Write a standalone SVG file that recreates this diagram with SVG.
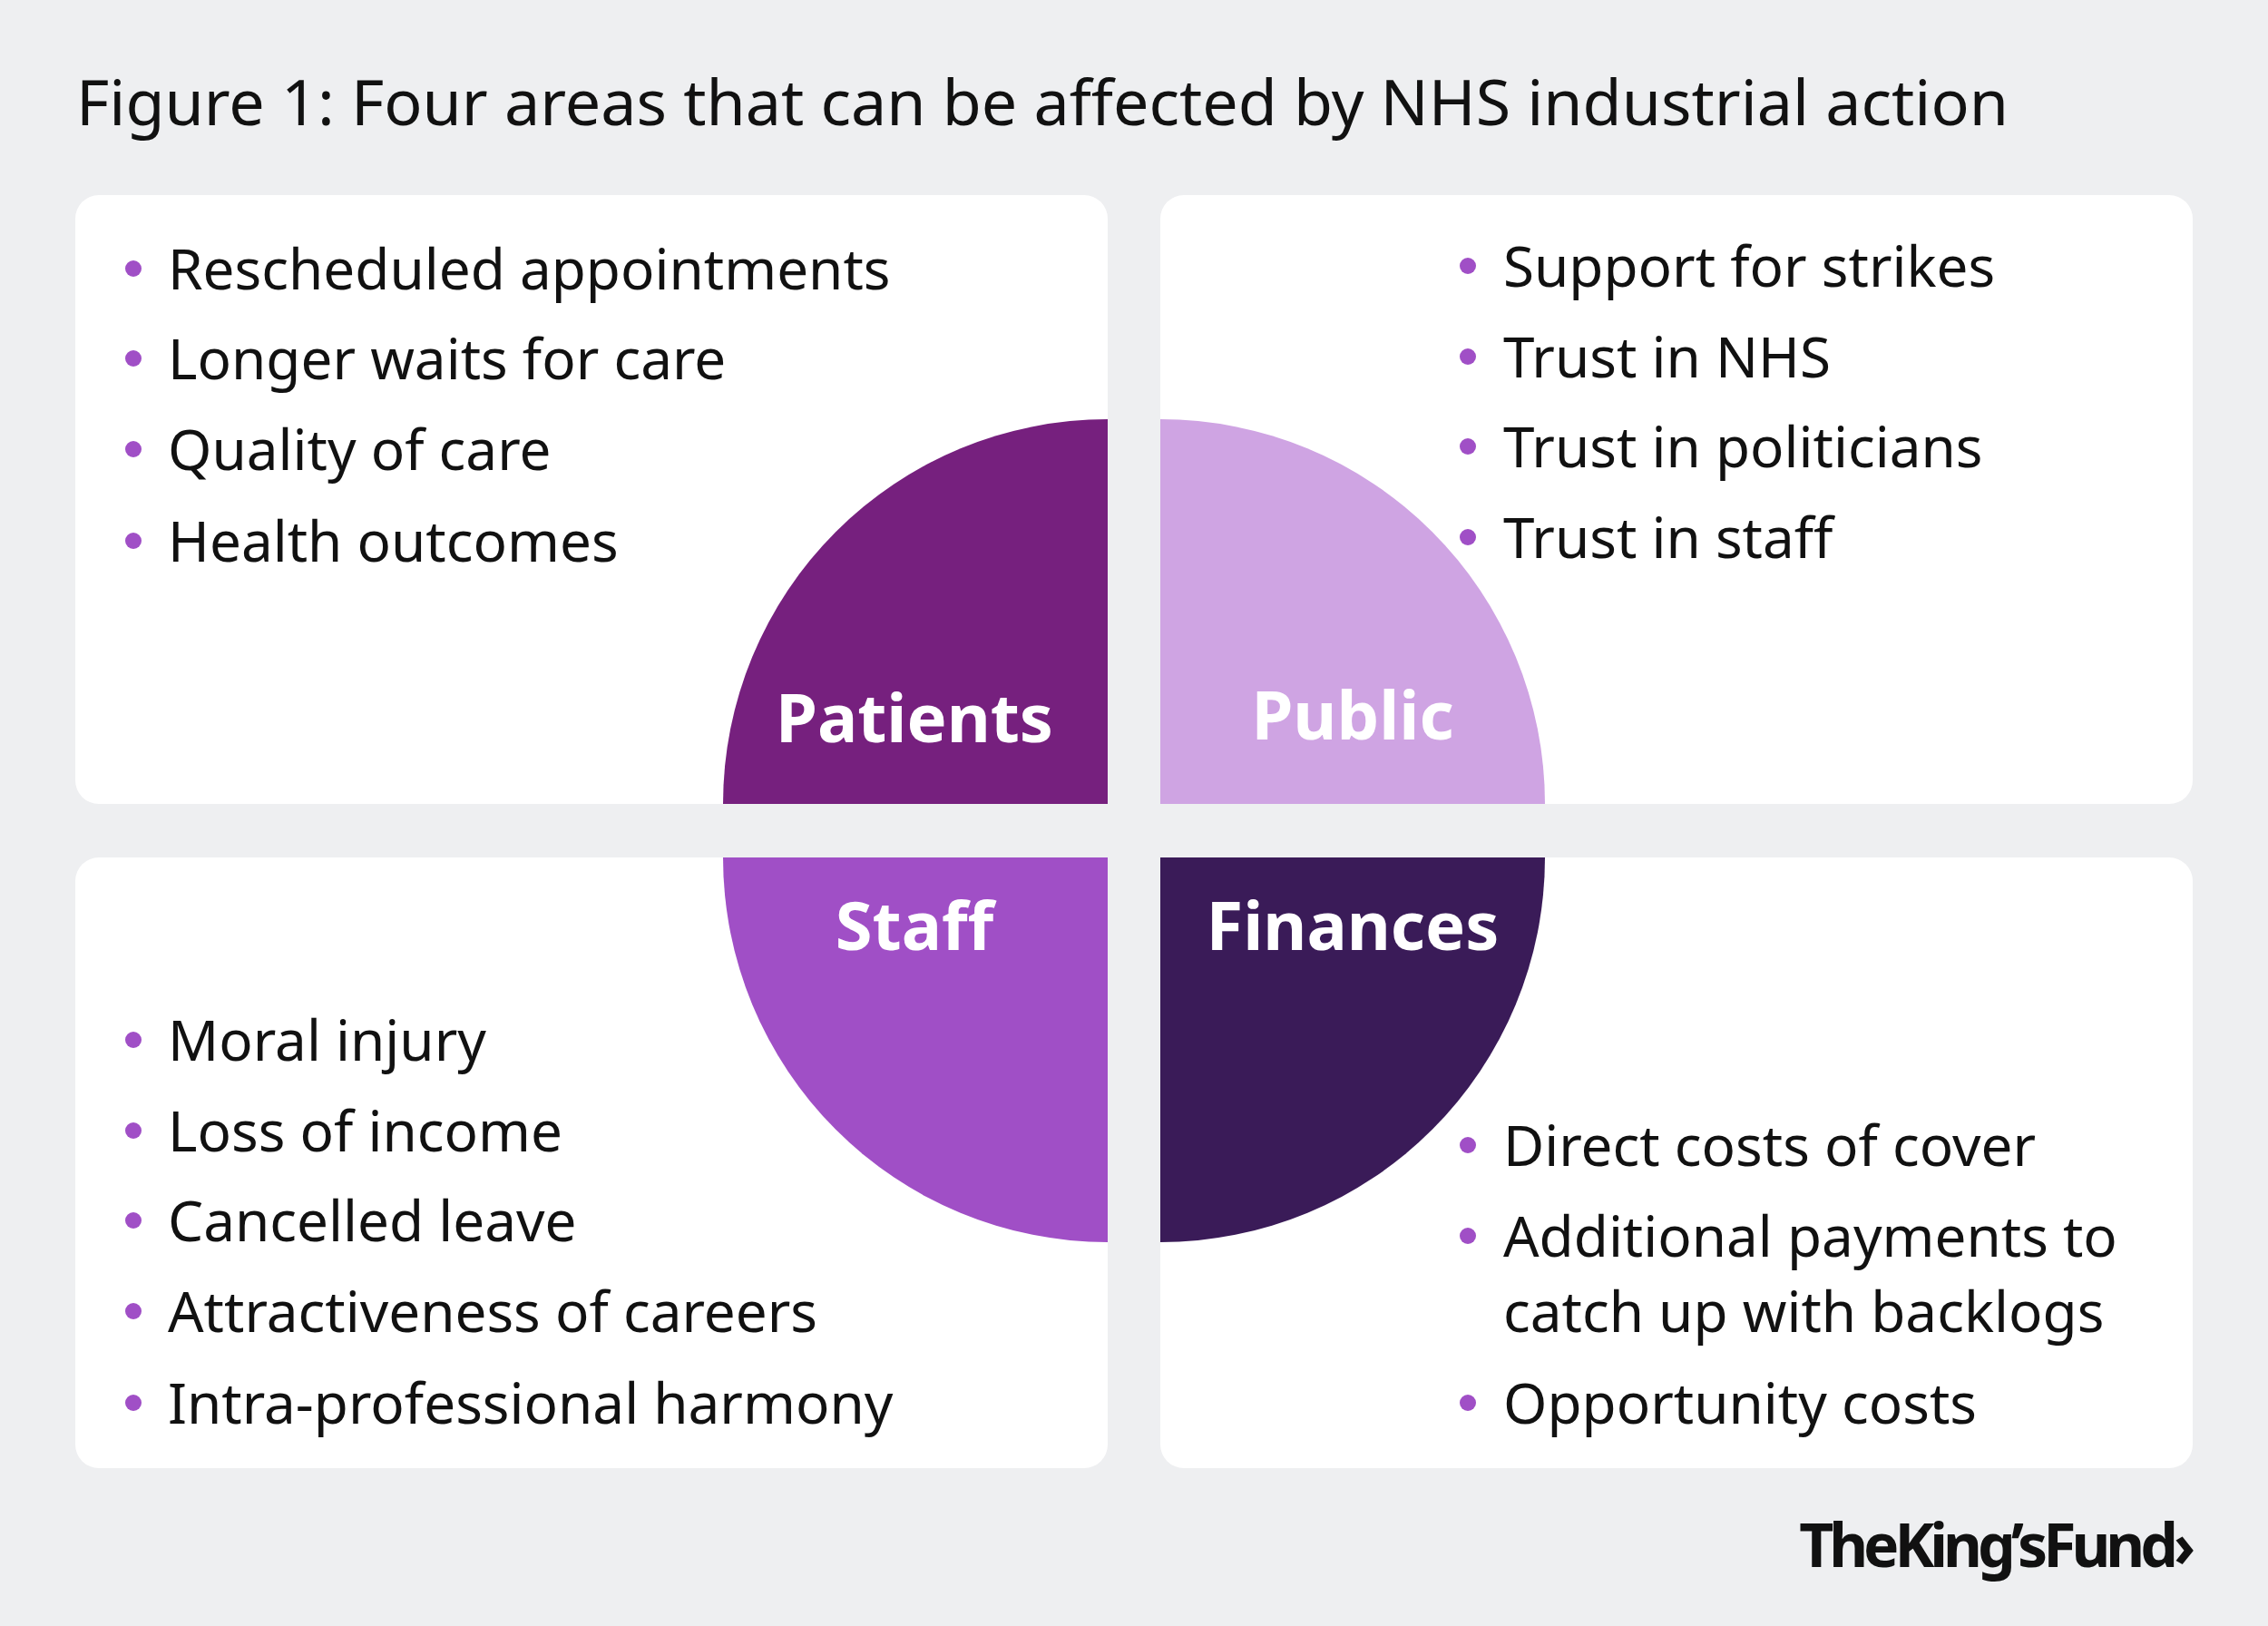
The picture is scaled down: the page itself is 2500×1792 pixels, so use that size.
<svg xmlns="http://www.w3.org/2000/svg" width="2500" height="1792" viewBox="0 0 2500 1792">
<style>
.t{font-family:"Noto Sans","Liberation Sans",sans-serif;font-size:62px;fill:#111}
.b{fill:#a04fc6}
.l{font-family:"Noto Sans","Liberation Sans",sans-serif;font-size:74px;font-weight:bold;fill:#fff;text-anchor:middle}
.p{fill:#fff}
</style>
<rect width="2500" height="1792" fill="#eeeff1"/>
<text x="84" y="138" font-family="Noto Sans, Liberation Sans, sans-serif" font-size="70" fill="#111">Figure 1: Four areas that can be affected by NHS industrial action</text>
<g id="panel-patients">
<rect class="p" x="83" y="215" width="1138" height="671" rx="26"/>
<path d="M1221 886 V462 A424 424 0 0 0 797 886 Z" fill="#76207e"/>
<text class="l" x="1008" y="818">Patients</text>
<g class="t"><text x="185" y="319">Rescheduled appointments</text><text x="185" y="418">Longer waits for care</text><text x="185" y="518">Quality of care</text><text x="185" y="619">Health outcomes</text></g>
<g class="b"><circle cx="147" cy="296" r="9"/><circle cx="147" cy="395" r="9"/><circle cx="147" cy="495" r="9"/><circle cx="147" cy="596" r="9"/></g>
</g>
<g id="panel-public">
<rect class="p" x="1279" y="215" width="1138" height="671" rx="26"/>
<path d="M1279 886 V462 A424 424 0 0 1 1703 886 Z" fill="#cfa4e3"/>
<text class="l" x="1491" y="815">Public</text>
<g class="t"><text x="1657" y="316">Support for strikes</text><text x="1657" y="416">Trust in NHS</text><text x="1657" y="515">Trust in politicians</text><text x="1657" y="615">Trust in staff</text></g>
<g class="b"><circle cx="1618" cy="293" r="9"/><circle cx="1618" cy="393" r="9"/><circle cx="1618" cy="492" r="9"/><circle cx="1618" cy="592" r="9"/></g>
</g>
<g id="panel-staff">
<rect class="p" x="83" y="945" width="1138" height="673" rx="26"/>
<path d="M1221 945 V1369 A424 424 0 0 1 797 945 Z" fill="#a04fc6"/>
<text class="l" x="1008" y="1047">Staff</text>
<g class="t"><text x="185" y="1169">Moral injury</text><text x="185" y="1269">Loss of income</text><text x="185" y="1368">Cancelled leave</text><text x="185" y="1468">Attractiveness of careers</text><text x="185" y="1569">Intra-professional harmony</text></g>
<g class="b"><circle cx="147" cy="1146" r="9"/><circle cx="147" cy="1246" r="9"/><circle cx="147" cy="1345" r="9"/><circle cx="147" cy="1445" r="9"/><circle cx="147" cy="1546" r="9"/></g>
</g>
<g id="panel-finances">
<rect class="p" x="1279" y="945" width="1138" height="673" rx="26"/>
<path d="M1279 945 V1369 A424 424 0 0 0 1703 945 Z" fill="#3a1b58"/>
<text class="l" x="1491" y="1047">Finances</text>
<g class="t"><text x="1657" y="1285">Direct costs of cover</text><text x="1657" y="1385">Additional payments to</text><text x="1657" y="1468">catch up with backlogs</text><text x="1657" y="1569">Opportunity costs</text></g>
<g class="b"><circle cx="1618" cy="1262" r="9"/><circle cx="1618" cy="1362" r="9"/><circle cx="1618" cy="1546" r="9"/></g>
</g>
<g id="connectors"/>
<text x="2415" y="1727" text-anchor="end" font-family="Noto Sans, Liberation Sans, sans-serif" font-size="66" font-weight="bold" letter-spacing="-5" fill="#111">TheKing’sFund›</text>
</svg>
